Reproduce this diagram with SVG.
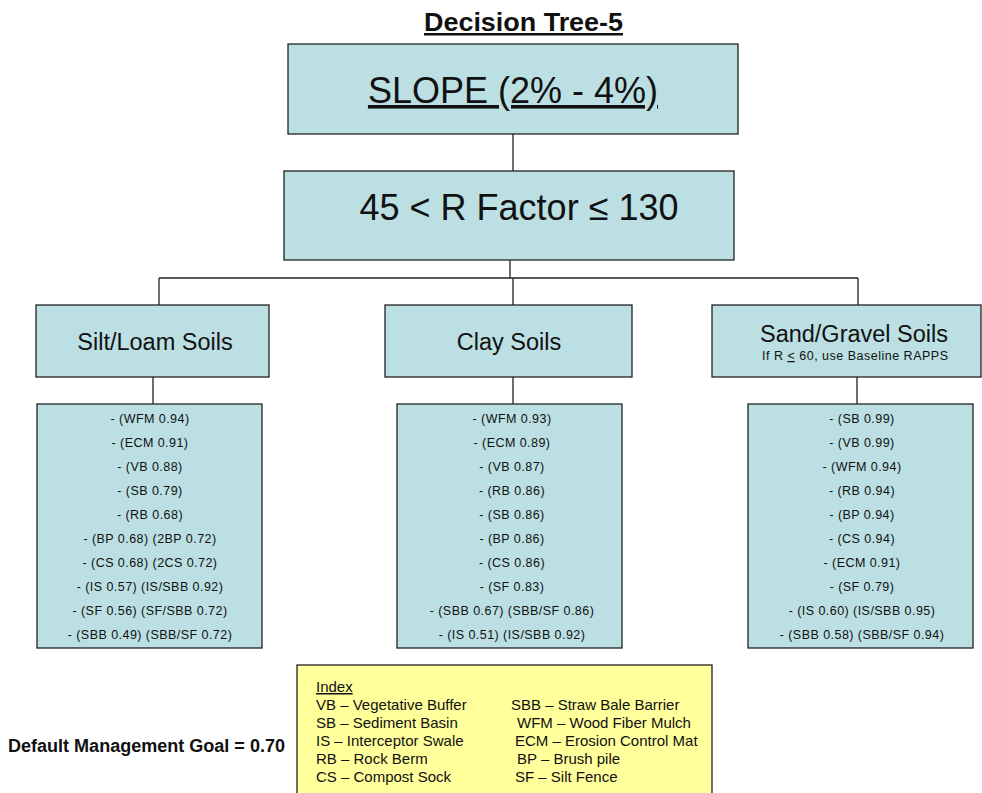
<svg xmlns="http://www.w3.org/2000/svg" width="982" height="793" viewBox="0 0 982 793">
<style>
text{font-family:"Liberation Sans",Arial,sans-serif;fill:#111}
.box{fill:#bbdfe2;stroke:#222;stroke-width:1.3}
.idx{fill:#ffff9c;stroke:#222;stroke-width:1.3}
.conn{stroke:#222;stroke-width:1.3;fill:none}
.big{font-size:36px}
.mid{font-size:23.5px}
.li{font-size:12.5px;text-anchor:middle;letter-spacing:0.45px}
.ix{font-size:15px}
</style>
<rect width="982" height="793" fill="#fff"/>
<text x="424" y="31" font-size="25" font-weight="bold" text-decoration="underline" textLength="199" lengthAdjust="spacingAndGlyphs">Decision Tree-5</text>
<g id="connectors">
<path class="conn" d="M513 134V171"/>
<path class="conn" d="M510 260V278M159 278H858M159 278V305M513 278V305M858 278V305"/>
<path class="conn" d="M153 377V404M513 377V404M857 377V404"/>
</g>
<g id="slope">
<rect class="box" x="288" y="44" width="450" height="90"/>
<text class="big" x="513" y="103" text-anchor="middle" text-decoration="underline">SLOPE (2% - 4%)</text>
</g>
<g id="rfactor">
<rect class="box" x="284" y="171" width="450" height="89"/>
<text class="big" x="519" y="220" text-anchor="middle">45 &lt; R Factor ≤ 130</text>
</g>
<g id="silt">
<rect class="box" x="36" y="305" width="233" height="72"/>
<text class="mid" x="155" y="350" text-anchor="middle">Silt/Loam Soils</text>
</g>
<g id="clay">
<rect class="box" x="385" y="305" width="247" height="72"/>
<text class="mid" x="509" y="350" text-anchor="middle">Clay Soils</text>
</g>
<g id="sand">
<rect class="box" x="712" y="305" width="269" height="72"/>
<text class="mid" x="854" y="342" text-anchor="middle">Sand/Gravel Soils</text>
<text x="762" y="360" font-size="12.5" textLength="186" lengthAdjust="spacing">If R <tspan text-decoration="underline">&lt;</tspan> 60, use Baseline RAPPS</text>
</g>
<g id="silt-list">
<rect class="box" x="37" y="404" width="225" height="244"/>
<text class="li" x="150" y="423">- (WFM 0.94)</text>
<text class="li" x="150" y="447">- (ECM 0.91)</text>
<text class="li" x="150" y="471">- (VB 0.88)</text>
<text class="li" x="150" y="495">- (SB 0.79)</text>
<text class="li" x="150" y="519">- (RB 0.68)</text>
<text class="li" x="150" y="543">- (BP 0.68) (2BP 0.72)</text>
<text class="li" x="150" y="567">- (CS 0.68) (2CS 0.72)</text>
<text class="li" x="150" y="591">- (IS 0.57) (IS/SBB 0.92)</text>
<text class="li" x="150" y="615">- (SF 0.56) (SF/SBB 0.72)</text>
<text class="li" x="150" y="639">- (SBB 0.49) (SBB/SF 0.72)</text>
</g>
<g id="clay-list">
<rect class="box" x="397" y="404" width="225" height="244"/>
<text class="li" x="512" y="423">- (WFM 0.93)</text>
<text class="li" x="512" y="447">- (ECM 0.89)</text>
<text class="li" x="512" y="471">- (VB 0.87)</text>
<text class="li" x="512" y="495">- (RB 0.86)</text>
<text class="li" x="512" y="519">- (SB 0.86)</text>
<text class="li" x="512" y="543">- (BP 0.86)</text>
<text class="li" x="512" y="567">- (CS 0.86)</text>
<text class="li" x="512" y="591">- (SF 0.83)</text>
<text class="li" x="512" y="615">- (SBB 0.67) (SBB/SF 0.86)</text>
<text class="li" x="512" y="639">- (IS 0.51) (IS/SBB 0.92)</text>
</g>
<g id="sand-list">
<rect class="box" x="748" y="404" width="225" height="244"/>
<text class="li" x="862" y="423">- (SB 0.99)</text>
<text class="li" x="862" y="447">- (VB 0.99)</text>
<text class="li" x="862" y="471">- (WFM 0.94)</text>
<text class="li" x="862" y="495">- (RB 0.94)</text>
<text class="li" x="862" y="519">- (BP 0.94)</text>
<text class="li" x="862" y="543">- (CS 0.94)</text>
<text class="li" x="862" y="567">- (ECM 0.91)</text>
<text class="li" x="862" y="591">- (SF 0.79)</text>
<text class="li" x="862" y="615">- (IS 0.60) (IS/SBB 0.95)</text>
<text class="li" x="862" y="639">- (SBB 0.58) (SBB/SF 0.94)</text>
</g>
<g id="index">
<rect class="idx" x="297" y="665" width="415" height="135"/>
<text class="ix" x="316" y="692" text-decoration="underline">Index</text>
<text class="ix" x="316" y="710">VB – Vegetative Buffer</text>
<text class="ix" x="316" y="728">SB – Sediment Basin</text>
<text class="ix" x="316" y="746">IS – Interceptor Swale</text>
<text class="ix" x="316" y="764">RB – Rock Berm</text>
<text class="ix" x="316" y="782">CS – Compost Sock</text>
<text class="ix" x="511" y="710">SBB – Straw Bale Barrier</text>
<text class="ix" x="517" y="728">WFM – Wood Fiber Mulch</text>
<text class="ix" x="515" y="746">ECM – Erosion Control Mat</text>
<text class="ix" x="517" y="764">BP – Brush pile</text>
<text class="ix" x="515" y="782">SF – Silt Fence</text>
</g>
<g id="goal">
<text x="8" y="752" font-size="18" font-weight="bold" textLength="277" lengthAdjust="spacingAndGlyphs">Default Management Goal = 0.70</text>
</g>
</svg>
